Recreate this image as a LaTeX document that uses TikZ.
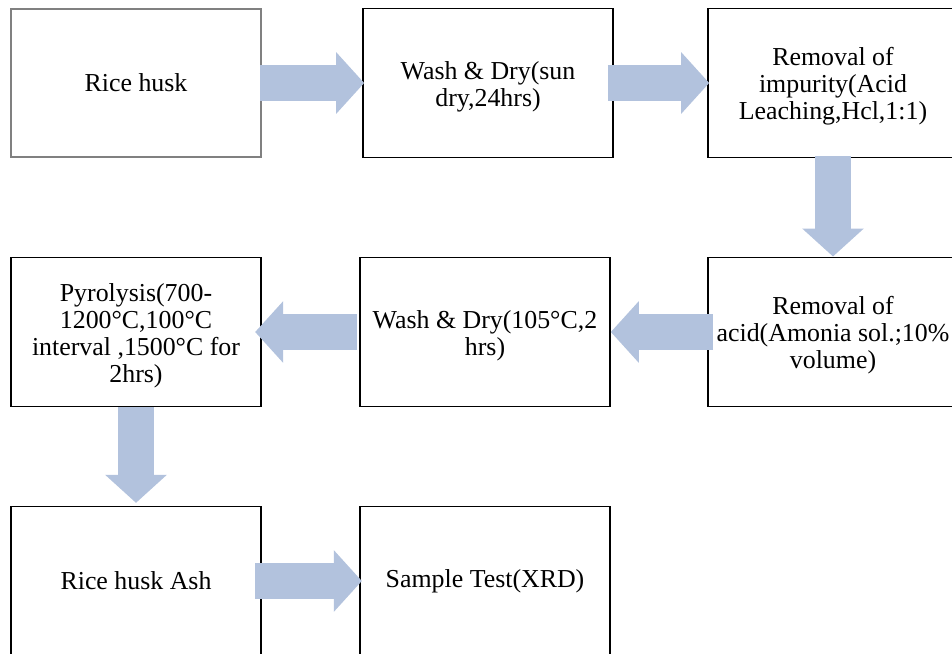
\documentclass[tikz,border=0pt]{standalone}
\usepackage{fontspec}
\setmainfont{Liberation Serif}
\usepackage{tikz}
\usetikzlibrary{arrows.meta,positioning,calc}
\definecolor{arrowblue}{RGB}{178,194,221}
\newcommand{\toppad}{\rule{0pt}{19pt}}
\tikzset{stepbox/.style={draw=black,line width=1.2pt,rectangle,align=center,inner sep=2pt,
    minimum width=187.5pt,minimum height=112pt,font=\fontsize{19.4}{20.2}\selectfont}}
\tikzset{fatarrow/.style={draw=arrowblue,line width=27pt,
    -{Triangle[width=45pt,length=21pt]}}}

\begin{document}
\begin{tikzpicture}[x=0.75pt, y=-0.75pt]
    \useasboundingbox (0,0) rectangle (952,653);
    % first row
    \node[stepbox,draw=gray,line width=1.6pt,minimum height=111pt] (husk) at (136,83) {Rice husk};
    \node[stepbox] (wash1) at (488,83) {\toppad Wash \& Dry(sun\\dry,24hrs)};
    \node[stepbox] (impure) at (833,83) {\toppad Removal of\\impurity(Acid\\Leaching,Hcl,1:1)};
    % second row
    \node[stepbox] (pyro) at (136,332) {\toppad Pyrolysis(700-\\1200°C,100°C\\interval ,1500°C for\\2hrs)};
    \node[stepbox] (wash2) at (485,332) {\toppad Wash \& Dry(105°C,2\\hrs)};
    \node[stepbox] (acid) at (833,332) {\toppad Removal of\\acid(Amonia sol.;10\%\\volume)};
    % third row
    \node[stepbox] (ash) at (136,581) {Rice husk Ash};
    \node[stepbox] (xrd) at (485,581) {Sample Test(XRD)};
    % arrows
    \draw[fatarrow] ([xshift=-1.5pt]husk.east) -- ([xshift=1.5pt]wash1.west);
    \draw[fatarrow] ([xshift=-4.5pt]wash1.east) -- ([xshift=1.5pt]impure.west);
    \draw[fatarrow] ([yshift=1.5pt]impure.south) -- (acid.north);
    \draw[fatarrow] ([xshift=4.5pt]acid.west) -- (wash2.east);
    \draw[fatarrow] ([xshift=-1.5pt]wash2.west) -- ([xshift=-5pt]pyro.east);
    \draw[fatarrow] (pyro.south) -- ([yshift=2pt]ash.north);
    \draw[fatarrow] ([xshift=-5pt]ash.east) -- ([xshift=2pt]xrd.west);
\end{tikzpicture}
\end{document}
